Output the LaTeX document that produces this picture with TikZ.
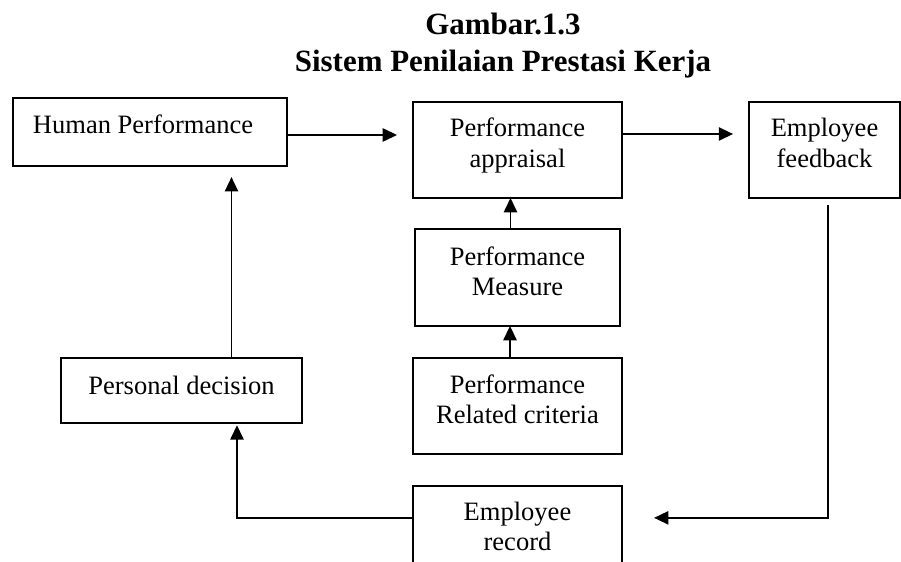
\documentclass[tikz,border=0pt]{standalone}
\usepackage{fontspec}
\setmainfont{Liberation Serif}
\usetikzlibrary{arrows.meta,positioning,calc}

\begin{document}
\begin{tikzpicture}[->,>={Triangle[length=6.5pt,width=6pt]},x=0.4525pt,y=-0.4525pt,line width=0.8pt,node distance=14.5pt]
\tikzstyle{block}=[draw=black,text=black,rectangle,inner sep=0pt,outer sep=0pt,line width=0.9pt,font=\fontsize{12}{13.8}\selectfont,align=center,text depth=0pt,minimum width=94.6pt,minimum height=43.4pt]
\useasboundingbox (0,0) rectangle (901,562);
\node[font=\fontsize{14}{16.8}\selectfont\bfseries,align=center,anchor=base] (judul) at (503,72) {Gambar.1.3\\Sistem Penilaian Prestasi Kerja};
\node[block,minimum width=124pt,minimum height=30.8pt,text width=105.9pt,align=flush left,text height=1.8pt] (hp) at (150,132) {Human Performance};
\node[block,text height=15.4pt] (apprais) at (517.5,150) {Performance\\appraisal};
\node[block,minimum width=68.3pt,text height=15.4pt] (feedback) at (824.5,150) {Employee\\feedback};
\node[block,minimum width=93.2pt,minimum height=43.9pt,text height=16.7pt][below=14pt of apprais] (measure) {Performance\\Measure};
\node[block,text height=16.3pt][below=of measure] (criteria) {Performance\\Related criteria};
\node[block,text height=15.4pt][below=of criteria] (record) {Employee\\record};
\node[block,minimum width=109.1pt,minimum height=29.4pt,text height=3.2pt] (pd) at (181.5,390.5) {Personal decision};
% alur penilaian
\draw[shorten >=7.2pt] ($(hp.east)+(0,3)$) -- ($(hp.east -| apprais.west)+(0,3)$);
\draw[shorten >=7.2pt] ($(apprais.east)+(0,-16)$) -- ($(apprais.east -| feedback.west)+(0,-16)$);
\draw ($(measure.north)+(-7,0)$) -- ($(apprais.south)+(-7,0)$);
\draw ($(criteria.north)+(-7.5,0)$) -- ($(measure.south)+(-7.5,0)$);
% umpan balik
\draw[shorten <=3.2pt,shorten >=14.5pt] ($(feedback.south)+(3.5,0)$) |- ($(record.east)+(0,-16)$);
\draw[shorten >=1pt] ($(record.west)+(0,-16)$) -| ($(pd.south)+(55.5,0)$);
\draw[shorten >=5pt] ($(pd.north)+(50,0)$) -- ($(hp.south)+(81.5,0)$);
\end{tikzpicture}
\end{document}
